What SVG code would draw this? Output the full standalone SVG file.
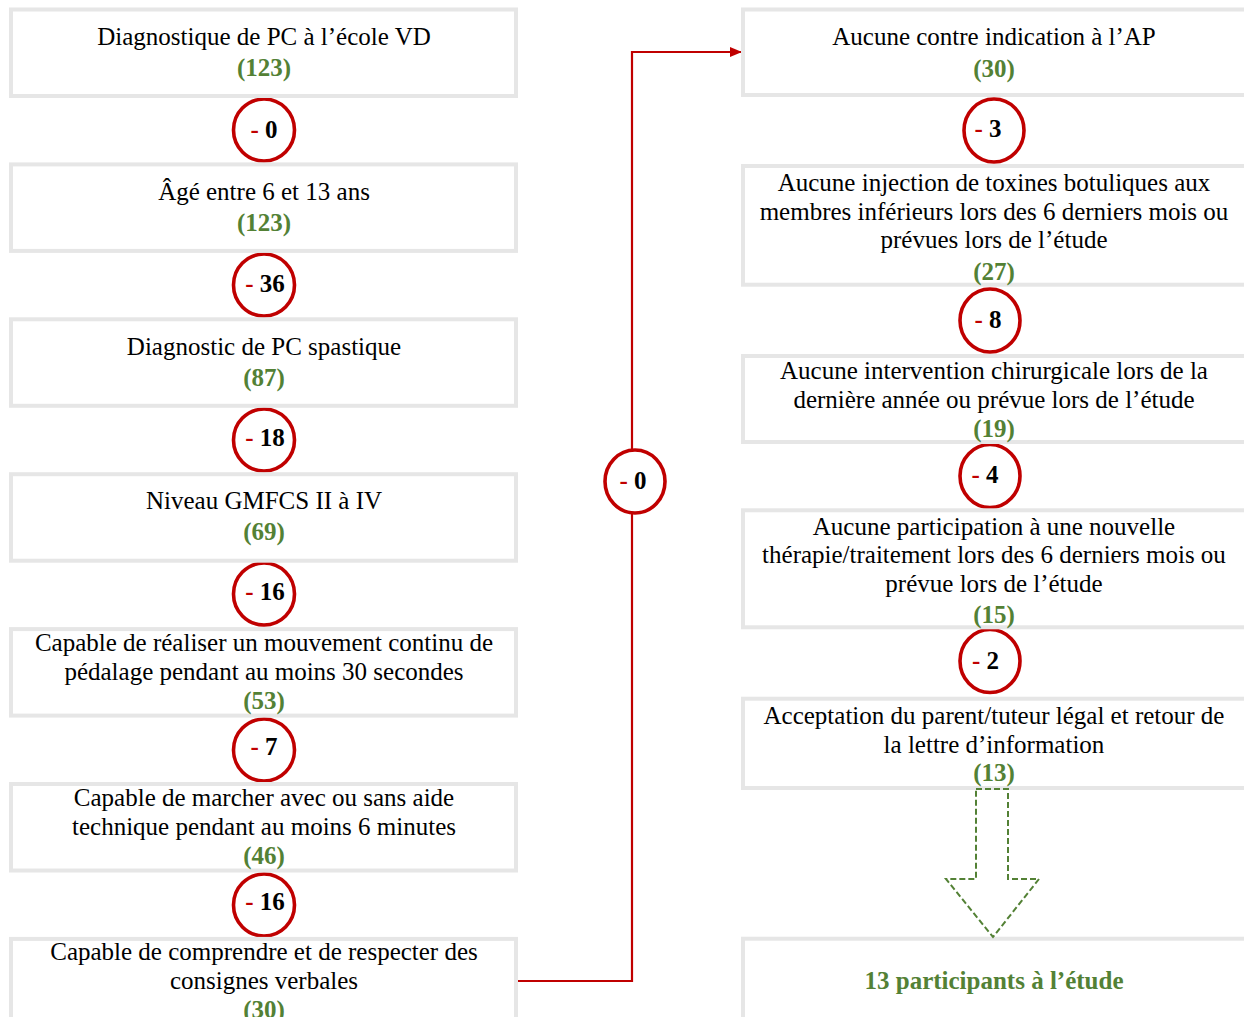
<svg xmlns="http://www.w3.org/2000/svg" width="1244" height="1017" viewBox="0 0 1244 1017">
<style>
.box{fill:#ffffff;stroke:#e6e6e6;stroke-width:4}
.t{font-family:"Liberation Serif","Times New Roman",serif;font-size:25px;fill:#000000;text-anchor:middle}
.n{font-family:"Liberation Serif","Times New Roman",serif;font-size:25px;font-weight:bold;fill:#538135;text-anchor:middle}
.circ{fill:#ffffff;stroke:#c00000;stroke-width:3.6}
.c{font-family:"Liberation Serif","Times New Roman",serif;font-size:25px;font-weight:bold;fill:#000000;text-anchor:middle}
.m{fill:#c00000}
.red{fill:none;stroke:#c00000;stroke-width:2.2}
.dash{fill:none;stroke:#538135;stroke-width:2;stroke-dasharray:6 3}
</style>
<defs>
<marker id="arrR" markerWidth="12" markerHeight="10" refX="12" refY="5" orient="auto" markerUnits="userSpaceOnUse"><path d="M0,0 L12,5 L0,10 z" fill="#c00000"/></marker>
</defs>
<g id="connectors">
<path class="red" d="M518,981 H632 V52 H742" marker-end="url(#arrR)"/>
</g>
<g id="c-l1"><ellipse class="circ" cx="264" cy="130" rx="30.5" ry="31"/><text class="c" x="264" y="138"><tspan class="m">-</tspan> 0</text></g>
<g id="c-l2"><ellipse class="circ" cx="264" cy="285" rx="30.5" ry="31"/><text class="c" x="265" y="291.5"><tspan class="m">-</tspan> 36</text></g>
<g id="c-l3"><ellipse class="circ" cx="264" cy="440" rx="30.5" ry="31"/><text class="c" x="265" y="446"><tspan class="m">-</tspan> 18</text></g>
<g id="c-l4"><ellipse class="circ" cx="264" cy="594" rx="30.5" ry="31"/><text class="c" x="265" y="599.5"><tspan class="m">-</tspan> 16</text></g>
<g id="c-l5"><ellipse class="circ" cx="264" cy="750" rx="30.5" ry="31"/><text class="c" x="264" y="755"><tspan class="m">-</tspan> 7</text></g>
<g id="c-l6"><ellipse class="circ" cx="264" cy="905" rx="30.5" ry="31"/><text class="c" x="265" y="910"><tspan class="m">-</tspan> 16</text></g>
<g id="c-mid"><ellipse class="circ" cx="635" cy="481.5" rx="30" ry="31.5"/><text class="c" x="633" y="488.5"><tspan class="m">-</tspan> 0</text></g>
<g id="c-r1"><ellipse class="circ" cx="994" cy="130.5" rx="30" ry="31.5"/><text class="c" x="988" y="137"><tspan class="m">-</tspan> 3</text></g>
<g id="c-r2"><ellipse class="circ" cx="990" cy="320.5" rx="30" ry="31.5"/><text class="c" x="988" y="327.5"><tspan class="m">-</tspan> 8</text></g>
<g id="c-r3"><ellipse class="circ" cx="990" cy="476" rx="30" ry="31.5"/><text class="c" x="985" y="483"><tspan class="m">-</tspan> 4</text></g>
<g id="c-r4"><ellipse class="circ" cx="990" cy="661" rx="30" ry="31.5"/><text class="c" x="985.5" y="669"><tspan class="m">-</tspan> 2</text></g>
<g id="box-l1"><rect class="box" x="11" y="9.5" width="505" height="86.5"/><text class="t" x="264" y="45">Diagnostique de PC à l’école VD</text><text class="n" x="264" y="76">(123)</text></g>
<g id="box-l2"><rect class="box" x="11" y="164.4" width="505" height="86.5"/><text class="t" x="264" y="199.5">Âgé entre 6 et 13 ans</text><text class="n" x="264" y="230.5">(123)</text></g>
<g id="box-l3"><rect class="box" x="11" y="319.3" width="505" height="86.5"/><text class="t" x="264" y="354.5">Diagnostic de PC spastique</text><text class="n" x="264" y="385.5">(87)</text></g>
<g id="box-l4"><rect class="box" x="11" y="474.2" width="505" height="86.5"/><text class="t" x="264" y="508.5">Niveau GMFCS II à IV</text><text class="n" x="264" y="540">(69)</text></g>
<g id="box-l5"><rect class="box" x="11" y="629.1" width="505" height="86.5"/><text class="t" x="264" y="650.5">Capable de réaliser un mouvement continu de</text><text class="t" x="264" y="680">pédalage pendant au moins 30 secondes</text><text class="n" x="264" y="709">(53)</text></g>
<g id="box-l6"><rect class="box" x="11" y="784" width="505" height="86.5"/><text class="t" x="264" y="805.5">Capable de marcher avec ou sans aide</text><text class="t" x="264" y="835">technique pendant au moins 6 minutes</text><text class="n" x="264" y="864">(46)</text></g>
<g id="box-l7"><rect class="box" x="11" y="938.9" width="505" height="86.5"/><text class="t" x="264" y="960">Capable de comprendre et de respecter des</text><text class="t" x="264" y="989">consignes verbales</text><text class="n" x="264" y="1018">(30)</text></g>
<g id="box-r1"><rect class="box" x="743" y="9.5" width="505" height="85.5"/><text class="t" x="994" y="45">Aucune contre indication à l’AP</text><text class="n" x="994" y="76.5">(30)</text></g>
<g id="box-r2"><rect class="box" x="743" y="166" width="505" height="118.7"/><text class="t" x="994" y="190.7">Aucune injection de toxines botuliques aux</text><text class="t" x="994" y="219.5">membres inférieurs lors des 6 derniers mois ou</text><text class="t" x="994" y="248.3">prévues lors de l’étude</text><text class="n" x="994" y="280">(27)</text></g>
<g id="box-r3"><rect class="box" x="743" y="356" width="505" height="86"/><text class="t" x="994" y="378.8">Aucune intervention chirurgicale lors de la</text><text class="t" x="994" y="407.8">dernière année ou prévue lors de l’étude</text><text class="n" x="994" y="437">(19)</text></g>
<g id="box-r4"><rect class="box" x="743" y="510.3" width="505" height="117"/><text class="t" x="994" y="535">Aucune participation à une nouvelle</text><text class="t" x="994" y="563">thérapie/traitement lors des 6 derniers mois ou</text><text class="t" x="994" y="592">prévue lors de l’étude</text><text class="n" x="994" y="622.5">(15)</text></g>
<g id="box-r5"><rect class="box" x="743" y="698.7" width="505" height="89.3"/><text class="t" x="994" y="724">Acceptation du parent/tuteur légal et retour de</text><text class="t" x="994" y="753">la lettre d’information</text><text class="n" x="994" y="781">(13)</text></g>
<g id="box-r6"><rect class="box" x="743" y="938.7" width="505" height="100"/><text class="n" x="994" y="989">13 participants à l’étude</text></g>
<g id="flow-arrow"><polygon class="dash" points="976,789 1008,789 1008,879 1039,879 993,937 946,879 976,879"/></g>
</svg>
